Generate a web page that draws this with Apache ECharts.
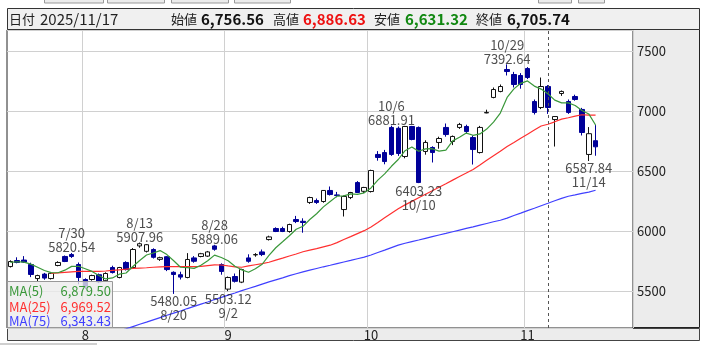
<!DOCTYPE html>
<html><head><meta charset="utf-8">
<script src="https://cdn.jsdelivr.net/npm/echarts@6/dist/echarts.min.js"></script>
<style>html,body{margin:0;padding:0;background:#fff}#c{width:704px;height:345px}</style>
</head><body><div id="c"></div>
<script>
// ---- data ----
const dates = ['7/17','7/18','7/21','7/22','7/23','7/24','7/25','7/28','7/29','7/30','7/31',
'8/1','8/4','8/5','8/6','8/7','8/8','8/11','8/12','8/13','8/14','8/15','8/18','8/19','8/20','8/21','8/22','8/25','8/26','8/27','8/28','8/29',
'9/2','9/3','9/4','9/5','9/8','9/9','9/10','9/11','9/12','9/15','9/16','9/17','9/18','9/19','9/22','9/23','9/24','9/25','9/26','9/29','9/30',
'10/1','10/2','10/3','10/6','10/7','10/8','10/9','10/10','10/13','10/14','10/15','10/16','10/17','10/20','10/21','10/22','10/23','10/24','10/27','10/28','10/29','10/30','10/31',
'11/3','11/4','11/5','11/6','11/7','11/10','11/11','11/12','11/13','11/14','11/17'];
const emptySlots = ['_1','_2','_3','_4','_5'];
const opens = [5708,5758,5762,5725,5608,5645,5608,5717,5792,5808,5725,
5600,5600,5640,5590,5700,5617,5742,5700,5880,5835,5850,5768,5790,5660,5640,5617,5780,5792,5795,5880,5725,
5520,5625,5578,5780,5805,5830,5933,6025,6025,6000,6100,6085,6242,6258,6250,6342,6305,6183,6283,6408,6335,
6333,6642,6658,6867,6860,6625,6875,6867,6667,6700,6742,6867,6750,6867,6875,6783,6658,6988,7117,7167,7350,7308,7300,
7358,7083,7033,7208,6933,7150,7083,7125,7017,6642,6756.56];
const highs = [5760,5785,5795,5740,5640,5655,5662,5752,5800,5820.54,5742,
5610,5640,5650,5660,5715,5705,5752,5862,5907.96,5895,5860,5790,5795,5668,5665,5820,5795,5822,5838,5889.06,5735,
5625,5650,5690,5810,5820,5850,5965,6035,6040,6065,6130,6110,6290,6275,6345,6375,6330,6300,6330,6420,6372,
6515,6670,6680,6881.91,6875,6880,6880,6875,6760,6710,6790,6900,6800,6905,6890,6800,6880,7015,7200,7225,7392.64,7330,7320,
7370,7100,7283,7220,6960,7175,7100,7140,7030,6870,6886.63];
const lows = [5700,5735,5738,5620,5585,5598,5600,5710,5745,5780,5560,
5520,5590,5570,5585,5650,5610,5675,5695,5865,5825,5775,5755,5670,5480.05,5600,5610,5740,5785,5788,5840,5640,
5503.12,5575,5570,5740,5790,5795,5925,5995,5995,5990,6070,5990,6230,6230,6240,6300,6285,6125,6270,6320,6320,
6325,6590,6560,6630,6630,6610,6760,6403.23,6640,6575,6690,6790,6720,6855,6820,6558,6650,6985,7110,7160,7300,7200,7190,
7270,6975,7020,6980,6708,7130,6980,7090,6800,6587.84,6631.32];
const closes = [5750,5742,5745,5642,5633,5612,5652,5742,5750,5792,5617,
5545,5633,5580,5650,5658,5700,5683,5850,5898,5890,5785,5782,5683,5642,5620,5767,5752,5815,5830,5852,5667,
5617,5585,5683,5752,5808,5808,5955,6000,6000,6058,6083,6075,6283,6242,6342,6308,6300,6292,6325,6325,6367,
6508,6617,6583,6642,6650,6875,6767,6408,6742,6658,6775,6808,6792,6892,6833,6683,6867,6992,7183,7208,7333,7225,7225,
7283,6992,7208,7033,6958,7167,6992,7100,6825,6815,6705.74];
const ma5Head = [5742,5748,5745,5728];
const ma25 = [null,null,null,null,null,null,
5650,5655,5659,5663,5667,5667,5667,5667,5671,5676,
5681,5686,5692,5695,5698,5702,5705,5708,5708,5708,
5708,5708,5709,5716,5722,5721,5713,5706,5702,5713,
5723,5733,5744,5762,5778,5796,5813,5831,5845,5858,
5872,5886,5907,5933,5957,5982,6007,6038,6075,6114,
6153,6190,6222,6251,6281,6310,6339,6369,6398,6428,
6458,6487,6517,6554,6593,6631,6669,6708,6742,6777,
6811,6845,6879,6894,6914,6936,6948,6961,6973,6970,6969.52];
const ma75 = [null,null,null,null,null,null,null,null,null,null,null,null,null,null,null,null,
5171,5189,5208,5227,5245,5264,5283,5302,5320,5338,
5358,5376,5395,5413,5433,5451,5470,5488,5507,5525,
5543,5562,5580,5597,5614,5632,5648,5664,5678,5692,
5706,5719,5733,5746,5759,5773,5786,5804,5825,5845,
5866,5886,5902,5916,5929,5943,5957,5971,5984,5998,
6012,6026,6039,6053,6067,6081,6094,6112,6133,6153,
6174,6194,6215,6235,6256,6276,6294,6305,6317,6328,6343.43];
const highMarks = [['7/30',5820.54],['8/13',5907.96],['8/28',5889.06],['10/6',6881.91],['10/29',7392.64]];
const lowMarks = [['8/20',5480.05],['9/2',5503.12],['10/10',6403.23],['11/14',6587.84]];
const headerDate = '2025/11/17';
const headerVals = {open:'6,756.56', high:'6,886.63', low:'6,631.32', close:'6,705.74'};
const legendNames = ['MA(5)','MA(25)','MA(75)'];
const legendVals = ['6,879.50','6,969.52','6,343.43'];
const markerDate = '11/6';

// ---- derived ----
const cats = dates.concat(emptySlots);
const ma5 = closes.map((c,i)=> i<4 ? ma5Head[i] : +(closes.slice(i-4,i+1).reduce((a,b)=>a+b,0)/5).toFixed(2));
const candles = dates.map((d,i)=>[opens[i],closes[i],lows[i],highs[i]]);
const monthStart = new Set();
dates.forEach((d,i)=>{ if(i>0 && d.split('/')[0]!==dates[i-1].split('/')[0]) monthStart.add(i); });

const FONT = '"Noto Sans CJK JP","Noto Sans",sans-serif';
const C_MA5='#3a983a', C_MA25='#ff3030', C_MA75='#4040ff';
const chart = echarts.init(document.getElementById('c'), null, {renderer:'canvas'});

function txt(x,y,text,color,size,bold,align){
  return {type:'text', z:101, silent:true, style:{x:x,y:y,text:text,fill:color,
    font:(bold?'bold ':'')+size+'px '+FONT, align:align||'left', verticalAlign:'middle'}};
}
const graphics = [
  {type:'rect',z:100,shape:{x:44.5,y:-6,width:59,height:9},style:{fill:'#ececec',stroke:'#999'}},
  {type:'rect',z:100,shape:{x:107.5,y:-6,width:57,height:9},style:{fill:'#ececec',stroke:'#999'}},
  {type:'rect',z:100,shape:{x:171.5,y:-6,width:57,height:9},style:{fill:'#ececec',stroke:'#999'}},
  {type:'rect',z:100,shape:{x:234.5,y:-6,width:56,height:9},style:{fill:'#ececec',stroke:'#999'}},
  {type:'rect',z:100,shape:{x:538.5,y:-6,width:33,height:9},style:{fill:'#ececec',stroke:'#999'}},
  {type:'rect',z:100,shape:{x:578.5,y:-6,width:26,height:9},style:{fill:'#ececec',stroke:'#999'}},
  {type:'rect',z:100,shape:{x:7.5,y:8.5,width:692,height:21},style:{fill:'#f0f0f0',stroke:'#333'}},
  txt(9,19,'日付','#222',13,false),
  txt(40,19,headerDate,'#222',15,false),
  txt(171,19,'始値','#222',13,false), txt(201,19,headerVals.open,'#111',15,true),
  txt(273,19,'高値','#222',13,false), txt(303,19,headerVals.high,'#ee1111',15,true),
  txt(374,19,'安値','#222',13,false), txt(405,19,headerVals.low,'#118811',15,true),
  txt(476,19,'終値','#222',13,false), txt(507,19,headerVals.close,'#111',15,true),
  {type:'rect',z:-1,shape:{x:633.5,y:29.5,width:66,height:298},style:{fill:'#ececec',stroke:'#222'}},
  {type:'rect',z:-1,shape:{x:7.5,y:328.5,width:692,height:12},style:{fill:'#ececec',stroke:'#444'}},
  {type:'rect',z:-1,shape:{x:0,y:343,width:97,height:2},style:{fill:'#cfcfcf'}},
  {type:'rect',z:100,shape:{x:7.5,y:281.5,width:105,height:46},style:{fill:'rgba(236,236,236,0.78)',stroke:'#999'}},
  txt(9,291,legendNames[0],C_MA5,13,false), txt(111,291,legendVals[0],C_MA5,13,false,'right'),
  txt(9,307,legendNames[1],C_MA25,13,false), txt(111,307,legendVals[1],C_MA25,13,false,'right'),
  txt(9,321,legendNames[2],C_MA75,13,false), txt(111,321,legendVals[2],C_MA75,13,false,'right')
];

const labelCommon = {show:true,color:'#222',fontSize:13,lineHeight:14,fontFamily:FONT};
chart.setOption({
  animation:false,
  backgroundColor:'#fff',
  grid:{left:7,top:30,width:626,height:298,show:true,backgroundColor:'#fff',borderColor:'#222',borderWidth:1},
  xAxis:{type:'category',data:cats,boundaryGap:true,
    axisLine:{show:false},axisTick:{show:false},
    axisLabel:{interval:(i)=>monthStart.has(i),formatter:(v)=>v.split('/')[0],color:'#222',fontSize:13,fontFamily:FONT,margin:1},
    splitLine:{show:true,interval:(i)=>monthStart.has(i),lineStyle:{color:'#d0d0d0',width:1}}},
  yAxis:{type:'value',position:'right',min:5196,max:7679,splitNumber:5,scale:true,
    axisLine:{show:false},axisTick:{show:false},
    axisLabel:{color:'#222',fontSize:13,fontFamily:FONT,margin:4,showMinLabel:false,showMaxLabel:false,formatter:(v)=>String(v)},
    splitLine:{show:true,lineStyle:{color:'#d0d0d0',width:1}}},
  graphic:graphics,
  series:[
    {type:'candlestick',data:candles,barWidth:5,z:2,
      itemStyle:{color:'#ffffff',color0:'#000099',borderColor:'#111',borderColor0:'#000099',borderWidth:1},
      markLine:{silent:true,symbol:['none','none'],label:{show:false},
        lineStyle:{type:[3,3],color:'#555',width:1},data:[{xAxis:markerDate}]}},
    {type:'line',data:ma75,showSymbol:false,z:3,lineStyle:{color:C_MA75,width:1.2},itemStyle:{color:C_MA75}},
    {type:'line',data:ma25,showSymbol:false,z:3,lineStyle:{color:C_MA25,width:1.2},itemStyle:{color:C_MA25}},
    {type:'line',data:ma5,showSymbol:false,z:3,lineStyle:{color:C_MA5,width:1.2},itemStyle:{color:C_MA5}},
    {type:'scatter',z:5,symbolSize:1,itemStyle:{color:'rgba(0,0,0,0)'},silent:true,
      data:highMarks.map(([d,v])=>({value:[d,v],label:Object.assign({},labelCommon,{position:'top',distance:-2,formatter:d+'\n'+v.toFixed(2)})}))},
    {type:'scatter',z:5,symbolSize:1,itemStyle:{color:'rgba(0,0,0,0)'},silent:true,
      data:lowMarks.map(([d,v])=>({value:[d,v],label:Object.assign({},labelCommon,{position:'bottom',distance:0,formatter:v.toFixed(2)+'\n'+d})}))}
  ]
});
</script></body></html>
